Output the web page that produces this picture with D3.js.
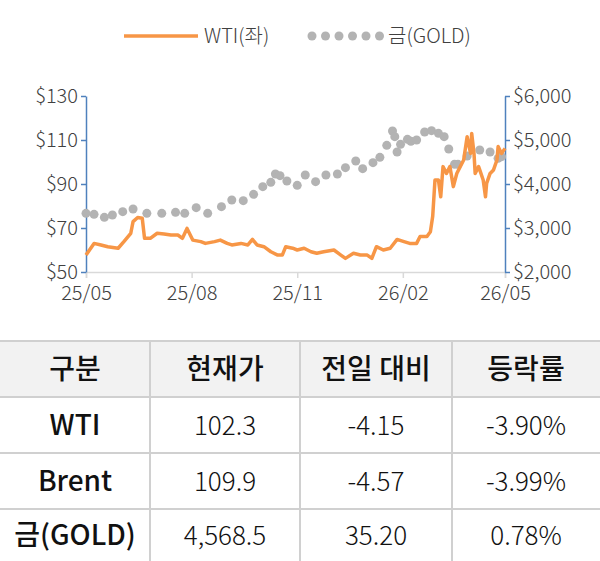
<!DOCTYPE html>
<html><head><meta charset="utf-8">
<script src="https://cdn.jsdelivr.net/npm/d3@7"></script>
<style>body{margin:0;background:#fff;font-family:"Noto Sans CJK KR","Noto Sans",sans-serif;}</style>
</head><body>
<svg id="c" width="600" height="561"></svg>
<script>
// days since 2025-05-01
const wtiDays = [0,7,13,19,28,33,39,41,45,49,51,56,62,68,74,80,84,88,93,100,104,112,117,123,127,135,141,145,149,155,161,167,171,174,180,184,190,196,201,207,216,222,226,233,239,245,249,253,259,265,271,277,282,288,291,297,300,302,304,307,309,311,314,317,320,323,326,329,332,335,336,338,339,342,343,346,348,349,352,355,358,359,362,365];
const wtiVals = [57.7,63.0,62.3,61.5,60.8,63.8,67.6,72.9,74.8,74.4,65.3,65.3,67.6,67.3,66.8,66.8,65.3,69.8,64.5,63.8,63.0,63.8,64.5,63.0,62.3,63.0,62.3,64.8,62.3,61.5,59.2,57.7,57.7,61.5,60.8,60.0,60.8,59.2,58.5,59.2,60.0,57.7,56.2,58.5,57.7,57.7,56.2,61.5,60.0,60.8,64.8,63.8,63.0,63.0,66.1,66.1,68.3,75.2,91.8,91.8,84.2,97.9,94.8,97.9,88.8,94.8,97.9,100.9,111.5,103.9,113.0,103.9,94.8,97.9,96.4,91.8,84.2,90.3,94.8,96.4,100.9,107.0,103.9,106.2];
const goldDays = [0,7,16,23,32,41,53,66,78,86,96,106,118,127,137,146,154,161,165,169,175,184,191,200,209,219,226,235,241,250,256,262,267,269,271,274,280,283,288,295,301,307,312,316,321,324,332,343,352,359,362];
const goldVals = [3333,3311,3242,3295,3371,3432,3333,3333,3356,3333,3462,3333,3485,3636,3621,3765,3939,4038,4227,4189,4068,3970,4205,4053,4205,4227,4371,4523,4348,4485,4606,4879,5205,5076,4727,4902,5015,4970,5000,5182,5212,5152,5076,4795,4447,4447,4636,4773,4727,4583,4621];
const xTickDays = [0,92,184,276,365];
const xTickLabels = ['25/05','25/08','25/11','26/02','26/05'];
const leftTicks = [50,70,90,110,130];
const rightTicks = [2000,3000,4000,5000,6000];
const tableHead = ['구분','현재가','전일 대비','등락률'];
const tableRows = [
  ['WTI','102.3','-4.15','-3.90%'],
  ['Brent','109.9','-4.57','-3.99%'],
  ['금(GOLD)','4,568.5','35.20','0.78%']
];

const svg = d3.select('#c');
const orange = '#f79646', grey = '#b3b3b3', blue = '#4f81bd';
const font = '"Noto Sans CJK KR",sans-serif';
const x = d3.scaleLinear().domain([0,365]).range([86,505]);
const yL = d3.scaleLinear().domain([50,130]).range([272,96]);
const yR = d3.scaleLinear().domain([2000,6000]).range([272,96]);

// bottom axis
const xa = svg.append('g').attr('transform','translate(0,272)')
  .call(d3.axisBottom(x).tickValues(xTickDays).tickFormat((d,i)=>xTickLabels[i]).tickSize(6).tickPadding(8));
xa.select('.domain').attr('stroke','#d9d9d9').attr('stroke-width',1.5);
xa.selectAll('.tick line').attr('stroke','#d9d9d9').attr('stroke-width',1.5);
xa.selectAll('text').attr('font-size',20).attr('fill','#404040').attr('font-family',font).attr('font-weight',300);

const la = svg.append('g').attr('transform','translate(86,0)')
  .call(d3.axisLeft(yL).tickValues(leftTicks).tickFormat(d=>'$'+d).tickSize(5).tickSizeOuter(0).tickPadding(3));
la.selectAll('.domain,.tick line').attr('stroke',blue).attr('stroke-width',1.5);
la.selectAll('text').attr('font-size',20).attr('fill','#404040').attr('font-family',font).attr('font-weight',300);

const ra = svg.append('g').attr('transform','translate(505,0)')
  .call(d3.axisRight(yR).tickValues(rightTicks).tickFormat(d=>'$'+d3.format(',')(d)).tickSize(5).tickSizeOuter(0).tickPadding(3));
ra.selectAll('.domain,.tick line').attr('stroke',blue).attr('stroke-width',1.5);
ra.selectAll('text').attr('font-size',20).attr('fill','#404040').attr('font-family',font).attr('font-weight',300);

// gold dots
svg.append('g').selectAll('circle').data(goldDays).join('circle')
  .attr('cx',d=>x(d)).attr('cy',(d,i)=>yR(goldVals[i])).attr('r',4.5).attr('fill',grey);

// WTI line
svg.append('path').datum(wtiDays.map((d,i)=>[d,wtiVals[i]]))
  .attr('d',d3.line().x(d=>x(d[0])).y(d=>yL(d[1])))
  .attr('fill','none').attr('stroke',orange).attr('stroke-width',3.5).attr('stroke-linejoin','round');

// legend
svg.append('line').attr('x1',124).attr('x2',198).attr('y1',36).attr('y2',36).attr('stroke',orange).attr('stroke-width',3.5);
svg.append('text').attr('x',204).attr('y',43).attr('font-size',20).attr('font-weight',300).attr('fill','#404040').text('WTI(좌)');
svg.append('g').selectAll('circle').data([0,1,2,3,4,5]).join('circle')
  .attr('cx',d=>312+d*13.5).attr('cy',36).attr('r',4.5).attr('fill',grey);
svg.append('text').attr('x',388).attr('y',43).attr('font-size',20).attr('font-weight',300).attr('fill','#404040').text('금(GOLD)');

// table
const colX = [0,150,300,452,600];
const rowY = [341,397,453,509,561];
svg.append('rect').attr('x',0).attr('y',rowY[0]).attr('width',600).attr('height',rowY[1]-rowY[0]).attr('fill','#f2f2f2');
rowY.slice(0,4).forEach(y=>svg.append('line').attr('x1',0).attr('x2',600).attr('y1',y).attr('y2',y).attr('stroke','#d0d0d0').attr('stroke-width',2));
colX.slice(1,4).forEach(cx=>svg.append('line').attr('x1',cx).attr('x2',cx).attr('y1',rowY[0]).attr('y2',561).attr('stroke','#d0d0d0').attr('stroke-width',2));
const allRows = [tableHead].concat(tableRows);
allRows.forEach((row,r)=>{
  row.forEach((t,c)=>{
    const strong = r===0||c===0;
    svg.append('text').attr('x',(colX[c]+colX[c+1])/2).attr('y',(rowY[r]+rowY[r+1])/2+10)
      .attr('text-anchor','middle').attr('font-size',strong?28:26)
      .attr('font-weight',strong?500:300).attr('fill','#111').text(t);
  });
});
</script>
</body></html>
